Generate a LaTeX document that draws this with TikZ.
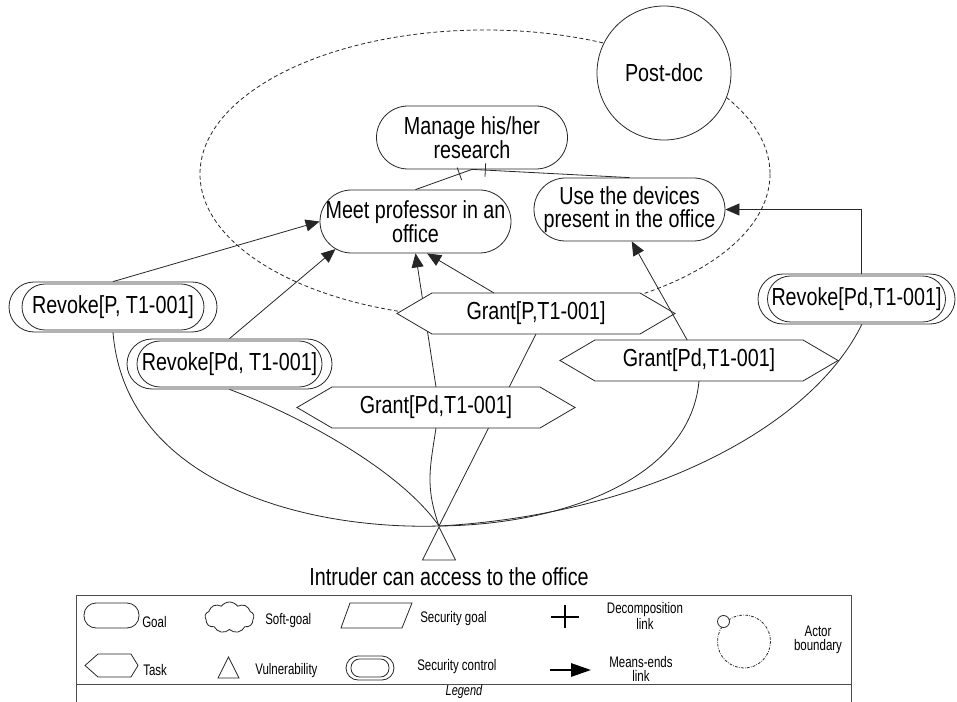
\documentclass[tikz,border=0pt]{standalone}
\usepackage{fontspec}
\setmainfont{Liberation Sans}[FakeStretch=0.8]
\newfontfamily\legendfont{Liberation Sans}[FakeStretch=0.75]
\usetikzlibrary{shapes.misc,shapes.symbols,shapes.geometric,arrows.meta,decorations.markings}

\pgfdeclarelayer{background}
\pgfsetlayers{background,main}

% hexagonal task shape: a rectangle whose short sides are pointed
\makeatletter
\pgfdeclareshape{taskhex}{%
  \inheritsavedanchors[from=rectangle]%
  \inheritanchorborder[from=rectangle]%
  \inheritanchor[from=rectangle]{center}%
  \inheritanchor[from=rectangle]{north}%
  \inheritanchor[from=rectangle]{south}%
  \inheritanchor[from=rectangle]{east}%
  \inheritanchor[from=rectangle]{west}%
  \inheritanchor[from=rectangle]{north east}%
  \inheritanchor[from=rectangle]{north west}%
  \inheritanchor[from=rectangle]{south east}%
  \inheritanchor[from=rectangle]{south west}%
  \backgroundpath{%
    \southwest \edef\hx@l{\the\pgf@x}\edef\hx@b{\the\pgf@y}%
    \northeast \edef\hx@r{\the\pgf@x}\edef\hx@t{\the\pgf@y}%
    \pgfmathsetlengthmacro\hx@m{(\hx@b+\hx@t)/2}%
    \pgfmathsetlengthmacro\hx@li{\hx@l+26.25pt}%
    \pgfmathsetlengthmacro\hx@ri{\hx@r-26.25pt}%
    \pgfpathmoveto{\pgfqpoint{\hx@l}{\hx@m}}%
    \pgfpathlineto{\pgfqpoint{\hx@li}{\hx@t}}%
    \pgfpathlineto{\pgfqpoint{\hx@ri}{\hx@t}}%
    \pgfpathlineto{\pgfqpoint{\hx@r}{\hx@m}}%
    \pgfpathlineto{\pgfqpoint{\hx@ri}{\hx@b}}%
    \pgfpathlineto{\pgfqpoint{\hx@li}{\hx@b}}%
    \pgfpathclose
  }%
}
\makeatother

\newcommand\zw[1]{\makebox[0pt]{#1}}
\newcommand\bigfs{\fontsize{18.5}{17.2}\selectfont}
\newcommand\smallfs{\legendfont\fontsize{11.5}{10.5}\selectfont}

\tikzset{
  ln/.style={line width=0.6pt, draw=black!85},
  goal/.style={rounded rectangle, draw, ln, fill=white, minimum width=143.25pt,
    minimum height=47.25pt, inner sep=0pt, align=center, font=\bigfs},
  secout/.style={rounded rectangle, draw, ln, fill=white, minimum height=37.5pt, inner sep=0pt},
  secin/.style={rounded rectangle, draw, ln, minimum height=34.5pt, inner sep=0pt, font=\bigfs},
  task/.style={taskhex, draw, ln, fill=white, minimum width=208.5pt, minimum height=30.75pt,
    inner sep=0pt, outer sep=0pt, font=\bigfs},
  actor/.style={circle, draw, ln, fill=white, minimum size=100.5pt, inner sep=0pt, font=\bigfs},
  vulner/.style={isosceles triangle, shape border rotate=90, isosceles triangle stretches,
    draw, ln, minimum width=24.75pt, minimum height=24.75pt, inner sep=0pt},
  boundary/.style={ln, dash pattern=on 3pt off 2pt},
  meansend/.style={-{Triangle[length=10.5pt,width=9pt]}},
  decomp/.style={decoration={markings, mark=at position 10pt with {\draw[ln] (0,-5pt) -- (0,5pt);}},
    postaction={decorate}},
  leglabel/.style={font=\smallfs, inner sep=0pt, align=center},
}

\begin{document}
\begin{tikzpicture}[x=0.75pt,y=-0.75pt]
\useasboundingbox (0,0) rectangle (957,702);

% actor and its goals
\node[actor] (postdoc) at (664,73) {Post-doc};
\node[goal] (manage) at (472,137.5) {\zw{Manage his/her}\\\zw{research}};
\node[goal] (meet) at (415.5,221.5) {\zw{Meet professor in an}\\\zw{office}};
\node[goal] (use) at (629.5,209.5) {\zw{Use the devices}\\\zw{present in the office}};

% security controls
\node[secout, minimum width=156pt] (rpo) at (113,307) {};
\node[secin, minimum width=136.5pt] (rp) at (113,307) {\zw{Revoke[P, T1-001]}};
\node[secout, minimum width=153.75pt] (rpdo) at (229.5,364) {};
\node[secin, minimum width=138.75pt] (rpd) at (229.5,364) {\zw{Revoke[Pd, T1-001]}};
\node[secout, minimum width=147.75pt] (rpd2o) at (856.5,299) {};
\node[secin, minimum width=133.5pt] (rpd2) at (856.5,299) {\zw{Revoke[Pd,T1-001]}};

% tasks
\node[task] (gp) at (536,313.5) {Grant[P,T1-001]};
\node[task] (gpd) at (436,407.5) {Grant[Pd,T1-001]};
\node[task] (gpd2) at (699,360.5) {Grant[Pd,T1-001]};

% vulnerability
\node[vulner, anchor=apex] (vul) at (439,526) {};
\node[font=\bigfs, inner sep=0pt] (vullabel) at (449,577) {Intruder can access to the office};

% boundary and links hidden behind the nodes
\begin{pgfonlayer}{background}
  \draw[boundary] (485,174) ellipse [x radius=285, y radius=144];
  \draw[ln] (vul.apex) -- (gp.south);
  \draw[ln, meansend] (gpd.north) -- (meet.south);
\end{pgfonlayer}

% decomposition links
\draw[ln, decomp] (manage.south) -- (meet.north);
\draw[ln, decomp] (manage.south) -- (use.north);

% means-ends links
\draw[ln, meansend] (rpo.north) -- (meet.west);
\draw[ln, meansend] (rpdo.north) -- (meet.199);
\draw[ln, meansend] (gp.154.5) -- (meet.290);
\draw[ln, meansend] (gpd2.120) -- (use.274);
\draw[ln, meansend] ([xshift=4pt]rpd2o.north) |- (use.east);

% links of the vulnerability
\draw[ln] (rpo.south) .. controls +(12,148) and +(-139,4) .. (vul.apex);
\draw[ln] (rpdo.south) .. controls +(70,26) and +(-39,-56) .. (vul.apex);
\draw[ln] (vul.apex) .. controls +(-14,-40) and +(-6,40) .. (gpd.south);
\draw[ln] (gpd2.south) .. controls +(-9,99) and +(121,-1) .. (vul.apex);
\draw[ln] ([xshift=4pt]rpd2o.south) .. controls +(-52,106) and +(201,-11) .. (vul.apex);

% legend frame
\draw[line width=0.7pt, draw=black!70] (76,702) -- (76,595) -- (851,595) -- (851,702);
\draw[line width=0.7pt, draw=black!70] (76,684) -- (851,684);
\node[font=\legendfont\fontsize{11}{11}\selectfont\itshape, inner sep=0pt] (legtitle) at (464,692) {Legend};

% legend: first row
\draw[ln, rounded corners=9pt] (84,603) rectangle (139,628);
\node[leglabel, anchor=west] (lgoal) at (142,622) {Goal};
\node[cloud, draw, ln, cloud puffs=9, cloud puff arc=110, aspect=1.6, minimum width=36.75pt,
  minimum height=23.25pt, inner sep=0pt] (lsoft) at (229.5,617.5) {};
\node[leglabel, anchor=west] (lsoftl) at (265,621) {Soft-goal};
\draw[ln] (350,603) -- (412,603) -- (402,628) -- (341,628) -- cycle;
\node[leglabel, anchor=west] (lsecg) at (420,619) {Security goal};
\draw[line width=1pt] (565,605) -- (565,628) (551,617) -- (579,617);
\node[leglabel] (ldecomp) at (645,616) {Decomposition\\link};
\draw[ln, dash pattern=on 2pt off 1pt on 0.5pt off 1pt] (744,641.5) circle [radius=26.5];
\draw[ln, fill=white] (723.5,621.5) circle [radius=6];
\node[leglabel] (lactor) at (818,640) {Actor\\boundary};

% legend: second row
\draw[ln] (85,665.5) -- (98,654) -- (131,654) -- (138,665.5) -- (131,677) -- (98,677) -- cycle;
\node[leglabel, anchor=west] (ltask) at (143,670) {Task};
\draw[ln] (218,678) -- (228.5,657) -- (239,678) -- cycle;
\node[leglabel, anchor=west] (lvul) at (255,671) {Vulnerability};
\draw[ln, rounded corners=9pt] (346,656) rectangle (394,680);
\draw[ln, rounded corners=6.5pt] (351,659) rectangle (389,677);
\node[leglabel, anchor=west] (lsecc) at (417,667) {Security control};
\draw[line width=1.5pt, -{Triangle[length=15pt,width=10pt]}] (550,670) -- (591,670);
\node[leglabel] (lmeans) at (641,669) {Means-ends\\link};
\end{tikzpicture}
\end{document}
